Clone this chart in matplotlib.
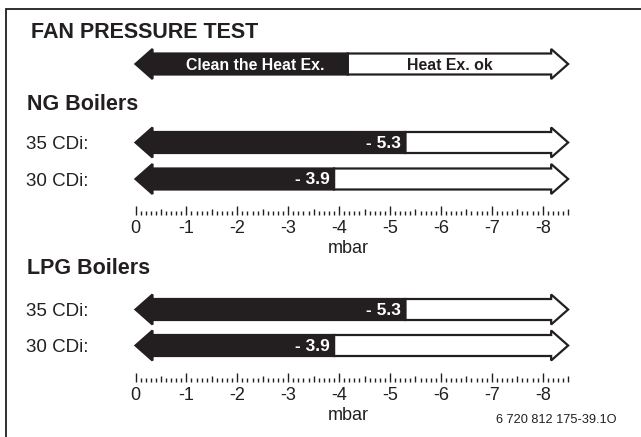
import numpy as np
import matplotlib
matplotlib.use("Agg")
import matplotlib.pyplot as plt
from matplotlib.patches import Polygon

plt.rcParams['font.family'] = ['Liberation Sans', 'DejaVu Sans']

# ---- data ----
title = "FAN PRESSURE TEST"
scale_max = 8.5                       # mbar (absolute), end of the scale arrows
tick_values = [0, 1, 2, 3, 4, 5, 6, 7, 8]
tick_labels = ["0", "-1", "-2", "-3", "-4", "-5", "-6", "-7", "-8"]
clean_limit = 4.17                    # boundary between "clean" and "ok" zones
zone_labels = ["Clean the Heat Ex.", "Heat Ex. ok"]

groups = ["NG Boilers", "LPG Boilers"]
models = ["35 CDi:", "30 CDi:"]
ng_values = [5.3, 3.9]
lpg_values = [5.3, 3.9]
unit = "mbar"
code = "6 720 812 175-39.1O"

# ---- layout ----
W, H = 641, 437
X0, U = 135.5, 50.9                  # pixel of 0 mbar, pixels per mbar
DARK = "#231f20"

fig = plt.figure(figsize=(W / 100, H / 100), dpi=100)
lay = fig.add_axes([0, 0, 1, 1])
lay.set_xlim(0, W)
lay.set_ylim(H, 0)
lay.axis("off")

ax = fig.add_axes([0, 0, 1, 1])
ax.set_xlim(-X0 / U, (W - X0) / U)
ax.set_ylim(H, 0)
ax.axis("off")
ax.patch.set_alpha(0)

# frame
lay.plot([5.5, 5.5, W + 5], [H + 5, 9, 9], color=DARK, lw=1.3,
         solid_joinstyle="miter")

head_len = 17 / U
body_h = 10.5
head_h = 15


def arrow(yc, split, label_left=None, label_right=None, value=None):
    L, R = 0.0, scale_max
    hl = head_len
    # black part: left head + body up to split
    black = [(L, yc), (L + hl, yc - head_h), (L + hl, yc - body_h),
             (split, yc - body_h), (split, yc + body_h),
             (L + hl, yc + body_h), (L + hl, yc + head_h)]
    white = [(split, yc - body_h), (R - hl, yc - body_h), (R - hl, yc - head_h),
             (R, yc), (R - hl, yc + head_h), (R - hl, yc + body_h),
             (split, yc + body_h)]
    ax.add_patch(Polygon(white, closed=True, fc="white", ec=DARK, lw=1.6,
                         joinstyle="miter"))
    ax.add_patch(Polygon(black, closed=True, fc=DARK, ec=DARK, lw=1.6,
                         joinstyle="miter"))
    if value is not None:
        ax.text(value - 4 / U, yc + 5.5, f"- {value}", color="white",
                fontsize=12.5, fontweight="bold", ha="right", va="baseline")
    if label_left:
        ax.text((hl + split) / 2 + 0.1, yc + 5.8, label_left, color="white",
                fontsize=11.4, fontweight="bold", ha="center", va="baseline")
    if label_right:
        ax.text((split + R - hl) / 2, yc + 5.8, label_right, color=DARK,
                fontsize=11.4, fontweight="bold", ha="center", va="baseline")


def scale(y_base):
    minor = np.round(np.arange(0, scale_max + 1e-9, 0.1), 1)
    for v in minor:
        if abs(v - round(v)) < 1e-6:
            h = 9
        elif abs(v * 2 - round(v * 2)) < 1e-6:
            h = 6
        else:
            h = 4
        ax.plot([v, v], [y_base, y_base - h], color=DARK, lw=1.0,
                solid_capstyle="butt")
    for v, t in zip(tick_values, tick_labels):
        ax.text(v, y_base + 18, t, fontsize=13, ha="center", va="baseline",
                color=DARK)
    lay.text(328, y_base + 38, unit, fontsize=13, ha="left", va="baseline",
             color=DARK)


# title and header arrow
lay.text(31, 38, title, fontsize=15.5, fontweight="bold", ha="left",
         va="baseline", color=DARK)
arrow(64, clean_limit, zone_labels[0], zone_labels[1])

group_base = [110, 274]
row_centers = [[142.5, 179], [309.5, 345.5]]
scale_base = [215, 382]
for g, vals, gb, rcs, sb in zip(groups, [ng_values, lpg_values], group_base,
                                row_centers, scale_base):
    lay.text(27, gb, g, fontsize=15.5, fontweight="bold", ha="left",
             va="baseline", color=DARK)
    for m, v, yc in zip(models, vals, rcs):
        lay.text(26, yc + 6.5, m, fontsize=13.5, ha="left", va="baseline",
                 color=DARK)
        arrow(yc, v, value=v)
    scale(sb)

lay.text(617, 423, code, fontsize=9.2, ha="right", va="baseline", color=DARK)

fig.savefig("out.png", dpi=100)
